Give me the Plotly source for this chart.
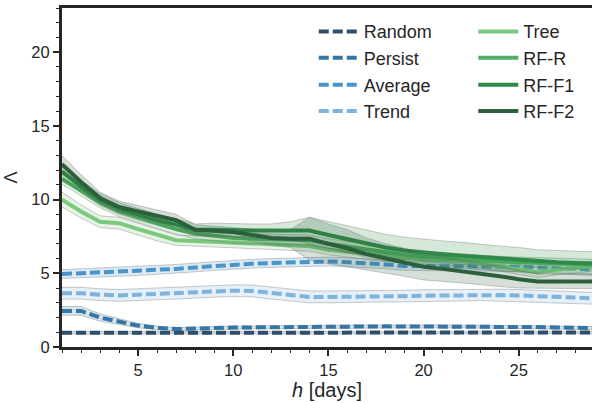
import plotly.graph_objects as go

# forecast horizon in days
h = list(range(1, 30))

# mean score Λ per horizon, with half-width of the shaded band
random_mean = [0.97, 0.97, 0.97, 0.97, 0.97, 0.98, 0.98, 0.99, 1.0, 1.0, 1.0, 1.0, 1.0, 1.0, 1.0,
               1.0, 1.0, 1.0, 1.0, 1.0, 1.0, 1.0, 1.0, 1.0, 1.0, 1.0, 0.99, 0.98, 0.98]
random_hw = [0.08] * 29

persist_mean = [2.45, 2.45, 2.0, 1.7, 1.45, 1.3, 1.22, 1.25, 1.3, 1.32, 1.33, 1.35, 1.37, 1.38, 1.38,
                1.39, 1.39, 1.4, 1.4, 1.4, 1.4, 1.4, 1.38, 1.37, 1.36, 1.35, 1.33, 1.3, 1.28]
persist_hw = [0.3, 0.3, 0.25, 0.2, 0.15, 0.12, 0.1, 0.1, 0.1, 0.1, 0.1, 0.1, 0.1, 0.1, 0.1,
              0.1, 0.1, 0.1, 0.1, 0.1, 0.1, 0.1, 0.1, 0.1, 0.1, 0.1, 0.1, 0.1, 0.1]

average_mean = [4.95, 5.0, 5.05, 5.1, 5.15, 5.2, 5.3, 5.4, 5.5, 5.6, 5.65, 5.7, 5.75, 5.78, 5.8,
                5.75, 5.7, 5.6, 5.5, 5.5, 5.45, 5.45, 5.45, 5.45, 5.45, 5.4, 5.35, 5.3, 5.25]
average_hw = [0.3] * 29

trend_mean = [3.65, 3.65, 3.55, 3.5, 3.55, 3.6, 3.65, 3.7, 3.78, 3.82, 3.8, 3.65, 3.5, 3.4, 3.4,
              3.4, 3.42, 3.45, 3.45, 3.48, 3.5, 3.52, 3.55, 3.52, 3.5, 3.45, 3.4, 3.35, 3.3]
trend_hw = [0.4] * 29

tree_mean = [10.0, 9.2, 8.5, 8.4, 8.0, 7.6, 7.25, 7.2, 7.15, 7.05, 7.0, 6.95, 6.9, 6.85, 6.6,
             6.45, 6.3, 6.15, 6.05, 5.95, 5.9, 5.85, 5.7, 5.5, 5.3, 5.05, 5.25, 5.4, 5.5]
tree_hw = [0.5, 0.45, 0.4, 0.4, 0.4, 0.4, 0.35, 0.35, 0.35, 0.35, 0.35, 0.35, 0.35, 0.35, 0.35,
           0.35, 0.35, 0.35, 0.35, 0.35, 0.35, 0.35, 0.35, 0.35, 0.35, 0.35, 0.35, 0.35, 0.35]

rfr_mean = [11.4, 10.6, 9.8, 9.2, 8.8, 8.4, 8.0, 7.7, 7.55, 7.4, 7.35, 7.3, 7.3, 7.25, 7.0,
            6.8, 6.6, 6.4, 6.25, 6.15, 6.05, 5.95, 5.85, 5.8, 5.75, 5.7, 5.7, 5.65, 5.6]
rfr_hw = [0.35] * 29

rff1_mean = [11.9, 10.9, 10.0, 9.4, 9.0, 8.6, 8.3, 7.95, 7.95, 7.9, 7.9, 7.9, 7.9, 7.9, 7.6,
             7.3, 7.0, 6.75, 6.55, 6.4, 6.3, 6.2, 6.1, 6.0, 5.9, 5.8, 5.75, 5.7, 5.65]
rff1_hw = [0.5, 0.4, 0.4, 0.4, 0.4, 0.4, 0.4, 0.4, 0.45, 0.45, 0.45, 0.45, 0.6, 0.9, 0.9,
           0.9, 0.9, 0.9, 0.9, 0.9, 0.9, 0.9, 0.85, 0.85, 0.85, 0.8, 0.8, 0.8, 0.8]

rff2_mean = [12.4, 11.2, 10.1, 9.5, 9.2, 8.9, 8.6, 7.95, 7.85, 7.8, 7.6, 7.4, 7.35, 7.35, 7.0,
             6.7, 6.3, 6.0, 5.75, 5.45, 5.3, 5.15, 5.0, 4.8, 4.6, 4.45, 4.45, 4.45, 4.45]
rff2_hw = [0.6, 0.5, 0.4, 0.4, 0.4, 0.4, 0.4, 0.35, 0.35, 0.35, 0.4, 0.5, 0.6, 1.45, 1.35,
           1.25, 1.1, 1.0, 0.95, 0.9, 0.85, 0.8, 0.75, 0.7, 0.6, 0.5, 0.5, 0.5, 0.5]

names = ["Random", "Persist", "Average", "Trend", "Tree", "RF-R", "RF-F1", "RF-F2"]
means = [random_mean, persist_mean, average_mean, trend_mean, tree_mean, rfr_mean, rff1_mean, rff2_mean]
halfwidths = [random_hw, persist_hw, average_hw, trend_hw, tree_hw, rfr_hw, rff1_hw, rff2_hw]
colors = [(47, 78, 107), (52, 118, 166), (74, 148, 204), (125, 179, 220),
          (124, 200, 127), (82, 173, 98), (46, 138, 72), (45, 95, 60)]
dashed = [True, True, True, True, False, False, False, False]

# legend placement (two columns of four)
leg_x = [0.475, 0.475, 0.475, 0.475, 0.776, 0.776, 0.776, 0.776]
leg_y = [0.930, 0.852, 0.773, 0.695, 0.930, 0.852, 0.773, 0.695]

fig = go.Figure()
ink = "#262626"
font_family = "Liberation Sans, Arial, sans-serif"

for i, (name, m, hw, c, d) in enumerate(zip(names, means, halfwidths, colors, dashed)):
    upper = [a + b for a, b in zip(m, hw)]
    lower = [a - b for a, b in zip(m, hw)]
    rgb = "rgb(%d,%d,%d)" % c
    fig.add_trace(go.Scatter(
        x=h + h[::-1], y=upper + lower[::-1], fill="toself",
        fillcolor="rgba(%d,%d,%d,0.2)" % c,
        line=dict(color="rgba(110,110,110,0.35)", width=1),
        mode="lines", hoverinfo="skip", showlegend=False))
    lg = "legend" if i == 0 else "legend%d" % (i + 1)
    fig.add_trace(go.Scatter(
        x=h, y=m, mode="lines", name=name, legend=lg,
        line=dict(color=rgb, width=4, dash="10px,4px" if d else "solid")))

layout_legends = {}
for i in range(8):
    key = "legend" if i == 0 else "legend%d" % (i + 1)
    layout_legends[key] = dict(
        x=leg_x[i], y=leg_y[i], xanchor="left", yanchor="middle",
        bgcolor="rgba(0,0,0,0)", borderwidth=0,
        font=dict(family=font_family, size=18, color=ink),
        itemwidth=40)

axis_common = dict(
    showline=True, linecolor=ink, linewidth=3,
    ticks="outside", ticklen=6, tickwidth=1.5, tickcolor=ink,
    showgrid=False, zeroline=False,
    tickfont=dict(family=font_family, size=16.5, color=ink),
)

fig.update_layout(
    width=592, height=403,
    margin=dict(l=62, r=0, t=8, b=56),
    plot_bgcolor="white", paper_bgcolor="white",
    xaxis=dict(range=[1, 28.85], tickvals=[5, 10, 15, 20, 25], mirror=True,
               minor=dict(dtick=1, tick0=0, ticks="outside", ticklen=3, tickwidth=1, tickcolor=ink),
               title=dict(text="<i>h</i> [days]", standoff=3,
                          font=dict(family=font_family, size=20, color=ink)),
               **axis_common),
    yaxis=dict(range=[0, 23], tickvals=[0, 5, 10, 15, 20],
               minor=dict(dtick=1, tick0=0, ticks="outside", ticklen=3, tickwidth=1, tickcolor=ink),
               title=dict(text="Λ", standoff=10,
                          font=dict(family=font_family, size=18, color=ink)),
               **axis_common),
    **layout_legends,
)

fig.write_html("out.html")
